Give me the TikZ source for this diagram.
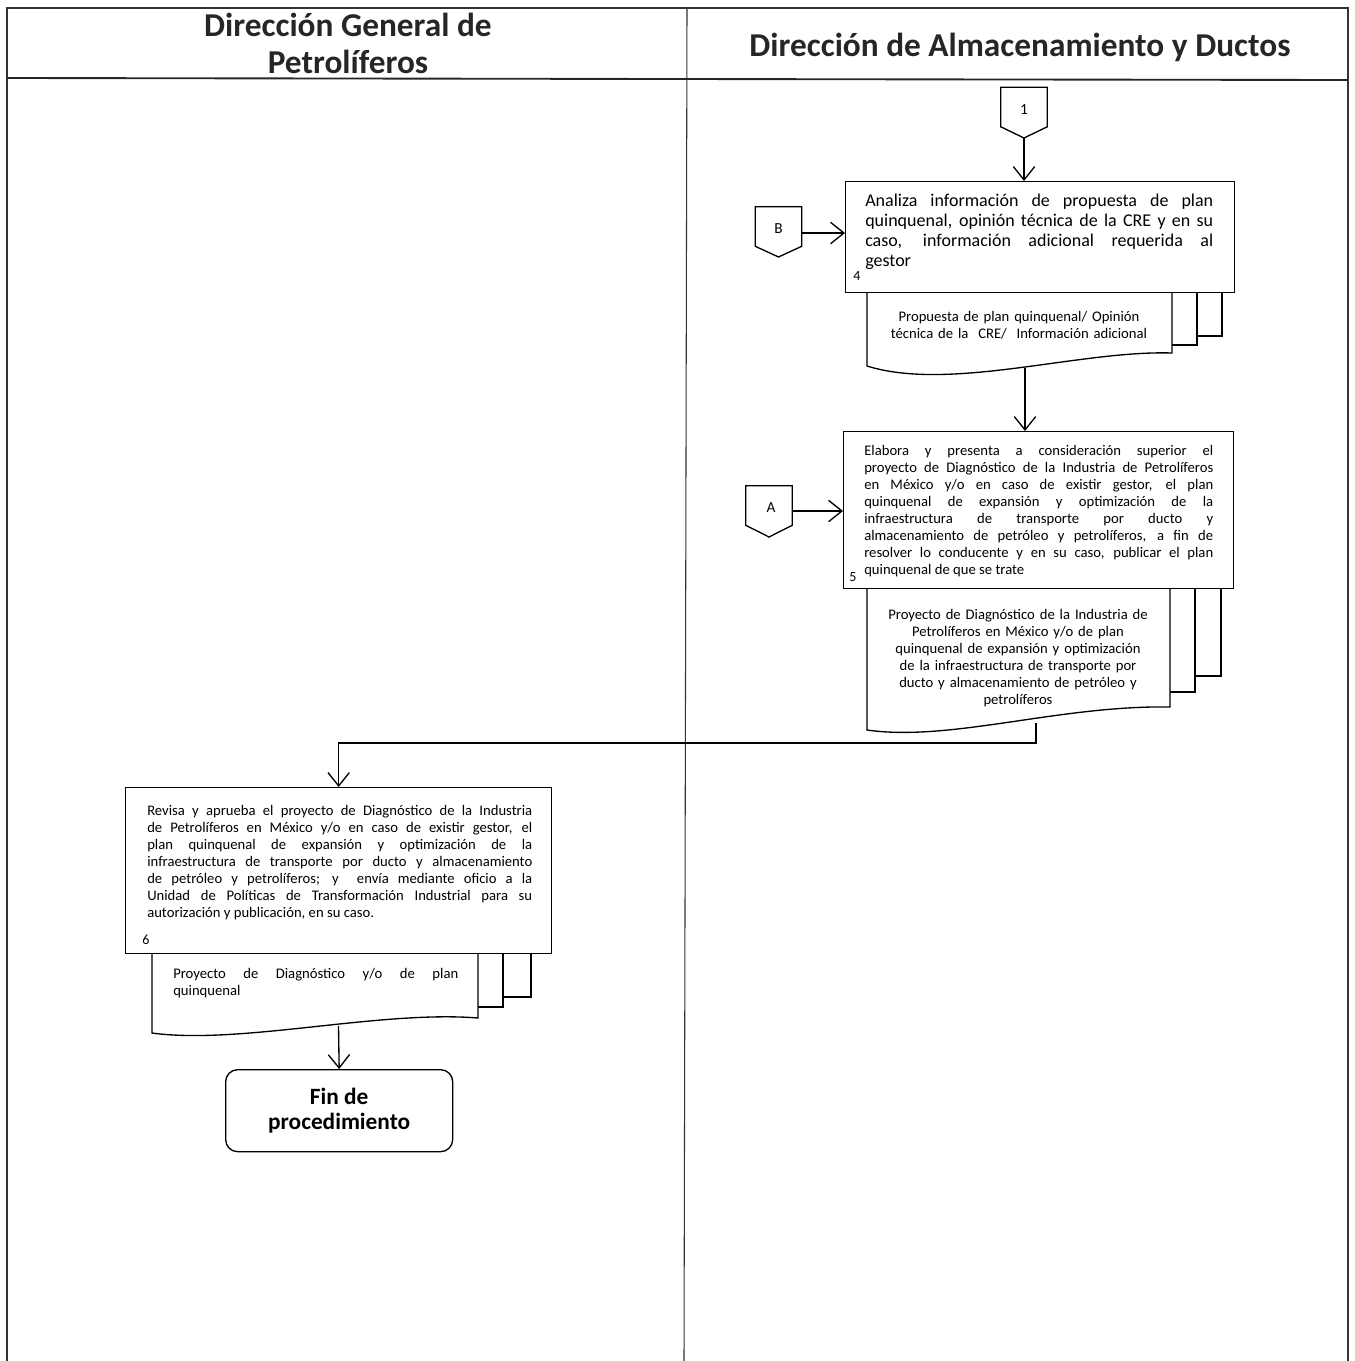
\documentclass[tikz,border=0pt]{standalone}
\usepackage{fontspec}
\setmainfont{Carlito}
\usetikzlibrary{arrows.meta,calc}

% paragraph settings for the justified flow texts
\newcommand\flowtext{\fontsize{11}{12.75}\selectfont\tolerance=10000 \hyphenpenalty=10000 }
\newcommand\bigflowtext{\fontsize{13.5}{15}\selectfont\tolerance=10000 \hyphenpenalty=10000 }

\tikzset{
  lanerule/.style={draw=black!80, line width=0.8pt},
  headrule/.style={draw=black!85, line width=1.4pt},
  lanetitle/.style={font=\bfseries\fontsize{25}{27.75}\selectfont, align=center, inner sep=0pt, text=black!85},
  procbox/.style={draw, line width=1pt, fill=white, inner sep=0pt, anchor=north west},
  bodytext/.style={font=\flowtext, align=justify, inner sep=0pt, anchor=base west},
  doctext/.style={font=\flowtext, align=center, inner sep=0pt, anchor=base, text width=300*0.75pt},
  numlabel/.style={font=\fontsize{10.5}{12}\selectfont, inner sep=0pt},
  docline/.style={line width=1pt},
  offpage/.style={inner sep=0pt, minimum width=46*0.75pt, minimum height=39*0.75pt, font=\fontsize{11.5}{12}\selectfont},
  offlabel/.style={inner sep=0pt, font=\fontsize{11.5}{12}\selectfont},
  shapeline/.style={line width=1pt, fill=white},
  flow/.style={line width=1pt, -{Straight Barb[length=10pt,width=16pt,line width=1pt]}},
  terminal/.style={draw, line width=1pt, rounded corners=9pt, anchor=north west, align=center,
    font=\bfseries\fontsize{17.5}{18.75}\selectfont, minimum width=227*0.75pt, minimum height=82*0.75pt, inner sep=0pt},
}

\begin{document}
\begin{tikzpicture}[x=0.75pt,y=-0.75pt]
\useasboundingbox (0,0) rectangle (1354,1361);

% swimlane frame
\draw[lanerule] (7,1361) -- (7,8) -- (1348,8) -- (1348,1361);
\draw[lanerule] (687,8) -- (684,1361);
\draw[headrule] (7,78) -- (1348,80);
\node[lanetitle] (laneL) at (348,43) {Dirección General de\\Petrolíferos};
\node[lanetitle] (laneR) at (1020,47) {Dirección de Almacenamiento y Ductos};

% off-page connector 1
\node[offpage] (c1) at (1024,107) {};
\coordinate (c1tip) at (1024,138);
\draw[shapeline] (c1.north west) -- (c1.north east) -- (c1.south east) -- (c1tip) -- (c1.south west) -- cycle;
\node[offlabel] (l1) at ($(c1)+(0,3)$) {1};

% documents of step 4 (stack of three pages)
\draw[docline] (1222,292) -- (1222,336) -- (1197,336);
\draw[docline] (1197,292) -- (1197,345) -- (1172,345);
\draw[docline, fill=white] (867,290) -- (867,366) .. controls (950,392) and (1080,350) .. (1172,353) -- (1172,290);
\coordinate (d4out) at (1025,368);
\node[doctext] (doc4) at (1019,321) {Propuesta de plan quinquenal/ Opinión\\técnica de la~ CRE/~ Información adicional};

% step 4
\node[procbox, minimum width=389*0.75pt, minimum height=111*0.75pt] (box4) at (845,181) {};
\node[bodytext, text width=348*0.75pt, font=\bigflowtext] (t4) at (865,206) {Analiza información de propuesta de plan\linebreak
quinquenal, opinión técnica de la CRE y en su\linebreak
caso, información adicional requerida al\linebreak
gestor};
\node[numlabel] (n4) at (857,276) {4};

% off-page connector B
\node[offpage] (cB) at (778.5,226.5) {};
\coordinate (cBtip) at (778.5,257);
\draw[shapeline] (cB.north west) -- (cB.north east) -- (cB.south east) -- (cBtip) -- (cB.south west) -- cycle;
\node[offlabel] (lB) at ($(cB)+(0,2)$) {B};

\draw[flow] (c1tip) -- (c1tip |- box4.north);
\draw[flow] (cB.east |- 0,233) -- (box4.west |- 0,233);

% documents of step 5
\draw[docline] (1221,588) -- (1221,676) -- (1195,676);
\draw[docline] (1195,588) -- (1195,692) -- (1170,692);
\draw[docline, fill=white] (867,585) -- (867,730) .. controls (950,742) and (1060,705) .. (1170,707) -- (1170,585);
\coordinate (d5out) at (1036,723);
\node[doctext] (doc5) at (1018,619) {Proyecto de Diagnóstico de la Industria de\\Petrolíferos en México y/o de plan\\quinquenal de expansión y optimización\\de la infraestructura de transporte por\\ducto y almacenamiento de petróleo y\\petrolíferos};

% step 5
\node[procbox, minimum width=390*0.75pt, minimum height=157*0.75pt] (box5) at (843,431) {};
\node[bodytext, text width=349*0.75pt] (t5) at (864,455) {Elabora y presenta a consideración superior el\linebreak
proyecto de Diagnóstico de la Industria de Petrolíferos\linebreak
en México y/o en caso de existir gestor, el plan\linebreak
quinquenal de expansión y optimización de la\linebreak
infraestructura de transporte por ducto y\linebreak
almacenamiento de petróleo y petrolíferos, a fin de\linebreak
resolver lo conducente y en su caso, publicar el plan\linebreak
quinquenal de que se trate};
\node[numlabel] (n5) at (853,577) {5};

% off-page connector A
\node[offpage] (cA) at (769,505.5) {};
\coordinate (cAtip) at (769,537);
\draw[shapeline] (cA.north west) -- (cA.north east) -- (cA.south east) -- (cAtip) -- (cA.south west) -- cycle;
\node[offlabel] (lA) at ($(cA)+(2,2)$) {A};

\draw[flow] (d4out) -- (d4out |- box5.north);
\draw[flow] (cA.east |- 0,511) -- (box5.west |- 0,511);

% documents of step 6
\draw[docline] (531,953) -- (531,997) -- (503,997);
\draw[docline] (503,953) -- (503,1007) -- (478,1007);
\draw[docline, fill=white] (152,950) -- (152,1033) .. controls (240,1045) and (380,1010) .. (478,1018) -- (478,950);
\coordinate (d6out) at (338.5,1026);
\node[bodytext, text width=285*0.75pt] (doc6) at (173,978) {Proyecto de Diagnóstico y/o de plan\linebreak quinquenal};

% step 6
\node[procbox, minimum width=426*0.75pt, minimum height=166*0.75pt] (box6) at (125,787) {};
\node[bodytext, text width=385*0.75pt] (t6) at (147,815) {Revisa y aprueba el proyecto de Diagnóstico de la Industria\linebreak
de Petrolíferos en México y/o en caso de existir gestor, el\linebreak
plan quinquenal de expansión y optimización de la\linebreak
infraestructura de transporte por ducto y almacenamiento\linebreak
de petróleo y petrolíferos; y~ envía mediante oficio a la\linebreak
Unidad de Políticas de Transformación Industrial para su\linebreak
autorización y publicación, en su caso.};
\node[numlabel] (n6) at (146,940) {6};

\draw[flow] (d5out) |- ($(box6.north)+(0,-44)$) -- (box6.north);

% end of procedure
\node[terminal] (term) at (225,1069) {Fin de\\procedimiento};
\draw[flow] (d6out) -- (term.north);

\end{tikzpicture}
\end{document}
